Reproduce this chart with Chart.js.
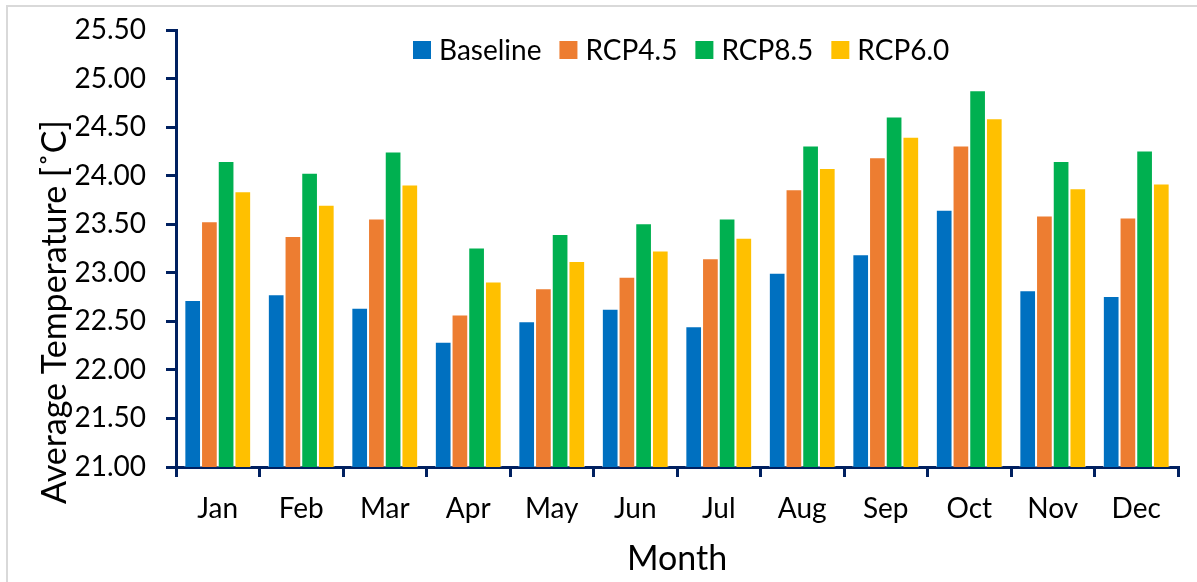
<!DOCTYPE html>
<html>
<head>
<meta charset="utf-8">
<script src="https://cdn.jsdelivr.net/npm/chart.js@4/dist/chart.umd.min.js"></script>
<style>
  html, body { margin: 0; padding: 0; background: #fff; }
  #wrap { width: 1197px; height: 582px; }
</style>
</head>
<body>
<div id="wrap"><canvas id="myChart" width="1197" height="582"></canvas></div>
<script>
const months = ['Jan', 'Feb', 'Mar', 'Apr', 'May', 'Jun', 'Jul', 'Aug', 'Sep', 'Oct', 'Nov', 'Dec'];
const seriesNames = ['Baseline', 'RCP4.5', 'RCP8.5', 'RCP6.0'];
const baseline = [22.72, 22.78, 22.64, 22.29, 22.50, 22.63, 22.45, 23.00, 23.19, 23.65, 22.82, 22.76];
const rcp45 = [23.53, 23.38, 23.56, 22.57, 22.84, 22.96, 23.15, 23.86, 24.19, 24.31, 23.59, 23.57];
const rcp85 = [24.15, 24.03, 24.25, 23.26, 23.40, 23.51, 23.56, 24.31, 24.61, 24.88, 24.15, 24.26];
const rcp60 = [23.84, 23.70, 23.91, 22.91, 23.12, 23.23, 23.36, 24.08, 24.40, 24.59, 23.87, 23.92];
const yMin = 21.0;
const yMax = 25.5;
const yStep = 0.5;

const colors = ['#0070C0', '#ED7D31', '#00B050', '#FFC000'];
const FONT = 'Lato, "Open Sans", sans-serif';
const axisColor = '#002060';

// legend, titles and the outer frame drawn by hand so they sit where the original has them
const extras = {
  id: 'extras',
  afterDraw(chart) {
    const ctx = chart.ctx;
    ctx.save();
    // outer frame
    ctx.strokeStyle = '#d9d9d9';
    ctx.lineWidth = 2;
    ctx.strokeRect(7, 6, 1300, 700);

    // legend
    ctx.font = '28px ' + FONT;
    ctx.textBaseline = 'middle';
    ctx.textAlign = 'left';
    let x = 413;
    const cy = 50;
    chart.data.datasets.forEach(function (ds) {
      ctx.fillStyle = ds.backgroundColor;
      ctx.fillRect(x, cy - 9, 18, 18);
      ctx.fillStyle = '#000';
      ctx.fillText(ds.label, x + 26, cy + 1);
      x += 26 + ctx.measureText(ds.label).width + 18;
    });

    // axis titles
    ctx.font = '34px ' + FONT;
    ctx.fillStyle = '#000';
    ctx.textAlign = 'center';
    ctx.fillText('Month', 677, 559);
    ctx.translate(55, 312);
    ctx.rotate(-Math.PI / 2);
    ctx.fillText('Average Temperature [˚C]', 0, 0);
    ctx.restore();
  }
};

function createChart() {
  var ctx = document.getElementById('myChart').getContext('2d');
  var allData = [baseline, rcp45, rcp85, rcp60];
  var myChart = new Chart(ctx, {
    type: 'bar',
    data: {
      labels: months,
      datasets: seriesNames.map(function (name, i) {
        return {
          label: name,
          data: allData[i],
          backgroundColor: colors[i],
          borderColor: 'rgba(255,255,255,0.55)',
          borderWidth: 1,
          borderSkipped: 'bottom',
          categoryPercentage: 0.8,
          barPercentage: 1.0
        };
      })
    },
    options: {
      responsive: false,
      animation: false,
      layout: { padding: { left: 0, top: 30, right: 19, bottom: 0 } },
      plugins: {
        legend: { display: false },
        tooltip: { enabled: false }
      },
      scales: {
        x: {
          grid: {
            display: true,
            drawOnChartArea: false,
            offset: true,
            color: axisColor,
            lineWidth: 3,
            tickLength: 10
          },
          border: { display: true, color: axisColor, width: 3 },
          ticks: { color: '#000', font: { family: FONT, size: 28 }, padding: 15, maxRotation: 0 },
          afterFit: function (scale) { scale.height = 115; }
        },
        y: {
          min: yMin,
          max: yMax,
          grid: {
            display: true,
            drawOnChartArea: false,
            color: axisColor,
            lineWidth: 3,
            tickLength: 10
          },
          border: { display: true, color: axisColor, width: 3 },
          ticks: {
            stepSize: yStep,
            color: '#000',
            // small lineHeight so the top label does not push the plot down
            font: { family: FONT, size: 28, lineHeight: 0.6 },
            padding: 20,
            callback: function (v) { return Number(v).toFixed(2); }
          },
          afterFit: function (scale) { scale.width = 176; }
        }
      }
    },
    plugins: [extras]
  });
}
createChart();
</script>
</body>
</html>
